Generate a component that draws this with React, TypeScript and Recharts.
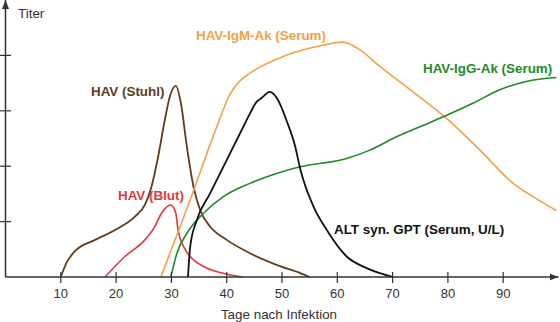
import React from "react";
import { LineChart, Line, XAxis, YAxis } from "recharts";

// Tage nach Infektion (x) and relative Titer (y)
const stuhlDays = [10, 11.0, 12.6, 16.2, 19.8, 23.4, 25.2, 26.4, 27.6, 28.8, 29.7, 30.8, 31.7, 32.8, 34.0, 35.2, 37.0, 40.0, 44.2, 49.0, 53.3, 55];
const stuhlTiter = [0, 0.25, 0.47, 0.67, 0.85, 1.09, 1.3, 1.63, 2.17, 2.83, 3.25, 3.45, 3.15, 2.35, 1.63, 1.21, 0.91, 0.67, 0.43, 0.22, 0.07, 0];

const blutDays = [18, 21.6, 25.2, 27.0, 28.2, 29.9, 30.8, 31.2, 32.2, 33.4, 35.8, 38.8, 42.8];
const blutTiter = [0, 0.37, 0.67, 0.91, 1.15, 1.3, 1.15, 0.85, 0.55, 0.37, 0.19, 0.08, 0];

const igmDays = [28.1, 33.4, 38.2, 40.6, 42.4, 44.2, 50.2, 56.3, 61.0, 64.1, 67.7, 73.7, 79.8, 85.8, 91.8, 95.4, 99.6];
const igmTiter = [0, 1.39, 2.71, 3.3, 3.54, 3.68, 3.98, 4.16, 4.24, 4.1, 3.8, 3.34, 2.86, 2.29, 1.69, 1.45, 1.2];

const iggDays = [29.9, 31.0, 32.8, 35.8, 39.4, 44.2, 49.0, 53.3, 61.7, 65.9, 70.7, 75.6, 79.8, 84.6, 89.4, 94.2, 99.6];
const iggTiter = [0, 0.43, 0.79, 1.15, 1.45, 1.69, 1.87, 1.99, 2.14, 2.29, 2.53, 2.74, 2.92, 3.14, 3.38, 3.53, 3.6];

const altDays = [33.0, 33.4, 34.6, 37.0, 40.0, 42.4, 44.2, 45.4, 46.3, 47.8, 49.3, 50.8, 52.4, 53.3, 55.7, 58.1, 61.7, 65.3, 70.1];
const altTiter = [0, 0.55, 1.03, 1.51, 2.11, 2.59, 2.95, 3.16, 3.23, 3.34, 3.19, 2.83, 2.35, 1.95, 1.27, 0.85, 0.37, 0.16, 0];

const xTicks = [10, 20, 30, 40, 50, 60, 70, 80, 90];
const yTicks = [1, 2, 3, 4];

const zip = (xs: number[], ys: number[]) => xs.map((d, i) => ({ day: d, v: ys[i] }));

const AXIS = "#333";
const FONT = "'Liberation Sans', Arial, sans-serif";

const XTick = (p: any) => (
  <g>
    <line x1={p.x} x2={p.x} y1={p.y - 5} y2={p.y + 6} stroke={AXIS} strokeWidth={1.2} />
    <text x={p.x} y={p.y + 21} textAnchor="middle" fontSize={13} fill={AXIS} fontFamily={FONT}>
      {p.payload.value}
    </text>
  </g>
);

const YTick = (p: any) => (
  <line x1={p.x - 5.5} x2={p.x + 5.5} y1={p.y} y2={p.y} stroke={AXIS} strokeWidth={1.2} />
);

const lbl = { fontFamily: FONT, fontSize: 13.4, fontWeight: 700 } as const;

export default function App() {
  return (
    <div style={{ position: "absolute", left: 0, top: 0 }}>
      <LineChart width={560} height={322} margin={{ top: 0, right: 1.5, left: 0, bottom: 0 }}>
        <defs>
          <marker id="arr" markerUnits="userSpaceOnUse" markerWidth={9} markerHeight={7} refX={9} refY={3.5} orient="auto-start-reverse">
            <path d="M0,0 L9,3.5 L0,7 z" fill={AXIS} />
          </marker>
        </defs>
        <XAxis
          type="number"
          dataKey="day"
          domain={[0, 100]}
          ticks={xTicks}
          height={45}
          tickSize={0}
          tickMargin={0}
          tickLine={false}
          tick={<XTick />}
          axisLine={{ stroke: AXIS, strokeWidth: 1.5, markerEnd: "url(#arr)" }}
          label={{ value: "Tage nach Infektion", position: "insideBottom", offset: 3, dx: -3, fill: AXIS, fontSize: 13.4, fontFamily: FONT }}
        />
        <YAxis
          type="number"
          domain={[0, 5]}
          ticks={yTicks}
          width={5.5}
          tickSize={0}
          tickMargin={0}
          tickLine={false}
          tick={<YTick />}
          axisLine={{ stroke: AXIS, strokeWidth: 1.5, markerStart: "url(#arr)" }}
        />
        <Line data={zip(stuhlDays, stuhlTiter)} dataKey="v" type="monotone" stroke="#5e3d1c" strokeWidth={1.8} dot={false} isAnimationActive={false} />
        <Line data={zip(blutDays, blutTiter)} dataKey="v" type="monotone" stroke="#e0393b" strokeWidth={1.6} dot={false} isAnimationActive={false} />
        <Line data={zip(igmDays, igmTiter)} dataKey="v" type="monotone" stroke="#f5a048" strokeWidth={1.6} dot={false} isAnimationActive={false} />
        <Line data={zip(iggDays, iggTiter)} dataKey="v" type="monotone" stroke="#1f8a28" strokeWidth={1.6} dot={false} isAnimationActive={false} />
        <Line data={zip(altDays, altTiter)} dataKey="v" type="monotone" stroke="#111" strokeWidth={1.8} dot={false} isAnimationActive={false} />
        <text x={18} y={18} fontSize={13.4} fill={AXIS} fontFamily={FONT}>Titer</text>
        <text x={196} y={40} fill="#f5a048" {...lbl}>HAV-IgM-Ak (Serum)</text>
        <text x={423} y={73} fill="#1f8a28" {...lbl}>HAV-IgG-Ak (Serum)</text>
        <text x={91} y={96} fill="#5e3d1c" {...lbl}>HAV (Stuhl)</text>
        <text x={118} y={200} fill="#e0393b" {...lbl}>HAV (Blut)</text>
        <text x={334} y={234} fill="#111" {...lbl}>ALT syn. GPT (Serum, U/L)</text>
      </LineChart>
    </div>
  );
}
